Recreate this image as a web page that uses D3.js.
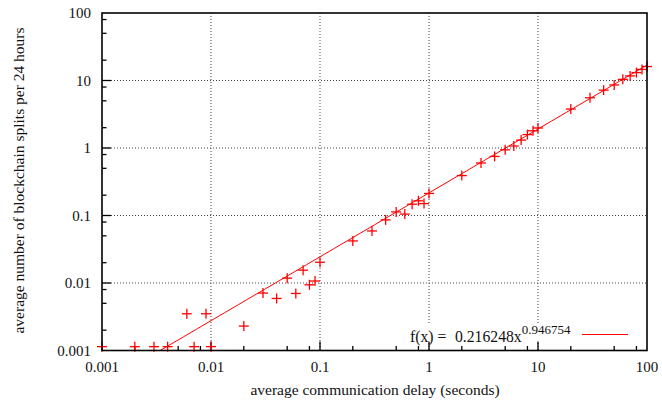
<!DOCTYPE html>
<html>
<head>
<meta charset="utf-8">
<script src="https://cdn.jsdelivr.net/npm/d3@7"></script>
<style>
  body { margin: 0; background: #fff; }
  text { font-family: "Liberation Serif", "DejaVu Serif", serif; fill: #111; }
</style>
</head>
<body>
<div id="chart"></div>
<script>
// measured points (delay in seconds, splits per 24 h)
var delays = [0.001, 0.002, 0.003, 0.004, 0.006, 0.007, 0.009, 0.01, 0.02,
              0.03, 0.04, 0.05, 0.06, 0.07, 0.08, 0.09, 0.1,
              0.2, 0.3, 0.4, 0.5, 0.6, 0.7, 0.8, 0.9, 1,
              2, 3, 4, 5, 6, 7, 8, 9, 10,
              20, 30, 40, 50, 60, 70, 80, 90, 100];
var splits = [0.00114, 0.00114, 0.00114, 0.00114, 0.0035, 0.00114, 0.0035, 0.00114, 0.0023,
              0.0071, 0.0059, 0.0118, 0.0070, 0.0155, 0.0094, 0.0107, 0.0203,
              0.042, 0.059, 0.086, 0.113, 0.105, 0.147, 0.165, 0.150, 0.212,
              0.39, 0.60, 0.75, 0.94, 1.07, 1.31, 1.58, 1.80, 1.98,
              3.78, 5.55, 7.2, 8.6, 10.4, 11.7, 13.1, 14.6, 16.1];

// fitted power law
var fitA = 0.216248, fitB = 0.946754;

var xTicks = [0.001, 0.01, 0.1, 1, 10, 100];
var yTicks = [0.001, 0.01, 0.1, 1, 10, 100];
var tickLabels = ["0.001", "0.01", "0.1", "1", "10", "100"];
var minorSteps = [2, 5, 8];

var W = 662, H = 406;
var margin = { top: 13, right: 15, bottom: 55.5, left: 102 },
    width = W - margin.left - margin.right,
    height = H - margin.top - margin.bottom;

var svg = d3.select("#chart").append("svg")
    .attr("width", W).attr("height", H);

var g = svg.append("g")
    .attr("transform", "translate(" + margin.left + "," + margin.top + ")");

var x = d3.scaleLog().domain([0.001, 100]).range([0, width]);
var y = d3.scaleLog().domain([0.001, 100]).range([height, 0]);

// minor tick values
var minors = [];
xTicks.slice(0, -1).forEach(function(t) {
    minorSteps.forEach(function(m) { minors.push(t * m); });
});

// grid
var inner = xTicks.slice(1, -1);
g.selectAll(".gx").data(inner).enter().append("line")
    .attr("x1", function(d) { return x(d); }).attr("x2", function(d) { return x(d); })
    .attr("y1", 0).attr("y2", height)
    .attr("stroke", "#444").attr("stroke-width", 1)
    .attr("stroke-dasharray", "1,2");
g.selectAll(".gy").data(inner).enter().append("line")
    .attr("y1", function(d) { return y(d); }).attr("y2", function(d) { return y(d); })
    .attr("x1", 0).attr("x2", width)
    .attr("stroke", "#444").attr("stroke-width", 1)
    .attr("stroke-dasharray", "1,2");

// key background hides the grid
g.append("rect")
    .attr("x", 300).attr("y", 312)
    .attr("width", 230).attr("height", 16)
    .attr("fill", "#fff");

// inward ticks
g.selectAll(".tx").data(xTicks.slice(1, -1)).enter().append("line")
    .attr("x1", function(d) { return x(d); }).attr("x2", function(d) { return x(d); })
    .attr("y1", height).attr("y2", height - 9)
    .attr("stroke", "#000").attr("stroke-width", 1.3);
g.selectAll(".mx").data(minors).enter().append("line")
    .attr("x1", function(d) { return x(d); }).attr("x2", function(d) { return x(d); })
    .attr("y1", height).attr("y2", height - 4.5)
    .attr("stroke", "#000").attr("stroke-width", 1.3);
g.selectAll(".ty").data(yTicks.slice(1, -1)).enter().append("line")
    .attr("y1", function(d) { return y(d); }).attr("y2", function(d) { return y(d); })
    .attr("x1", 0).attr("x2", 9)
    .attr("stroke", "#000").attr("stroke-width", 1.3);
g.selectAll(".my").data(minors).enter().append("line")
    .attr("y1", function(d) { return y(d); }).attr("y2", function(d) { return y(d); })
    .attr("x1", 0).attr("x2", 4.5)
    .attr("stroke", "#000").attr("stroke-width", 1.3);

// tick labels
g.selectAll(".lx").data(xTicks).enter().append("text")
    .attr("x", function(d) { return x(d); })
    .attr("y", height + 21)
    .attr("text-anchor", "middle")
    .style("font-size", "15px")
    .text(function(d, i) { return tickLabels[i]; });
g.selectAll(".ly").data(yTicks).enter().append("text")
    .attr("x", -11)
    .attr("y", function(d) { return y(d) + 5; })
    .attr("text-anchor", "end")
    .style("font-size", "15px")
    .text(function(d, i) { return tickLabels[i]; });

// axis titles
svg.append("text")
    .attr("x", 375)
    .attr("y", 395)
    .attr("text-anchor", "middle")
    .style("font-size", "15.5px")
    .text("average communication delay (seconds)");
svg.append("text")
    .attr("transform", "translate(24,180.5) rotate(-90)")
    .attr("text-anchor", "middle")
    .style("font-size", "15.5px")
    .text("average number of blockchain splits per 24 hours");

// fit line, clipped
svg.append("defs").append("clipPath").attr("id", "clip")
    .append("rect").attr("width", width).attr("height", height);

var fitX = d3.range(0, 41).map(function(i) { return Math.pow(10, -3 + i * 5 / 40); });
var line = d3.line()
    .x(function(d) { return x(d); })
    .y(function(d) { return y(fitA * Math.pow(d, fitB)); });
g.append("path")
    .datum(fitX)
    .attr("clip-path", "url(#clip)")
    .attr("d", line)
    .attr("fill", "none")
    .attr("stroke", "#ff0000")
    .attr("stroke-width", 1);

// data points as plus markers
var pts = g.append("g").attr("stroke", "#ff0000").attr("stroke-width", 1.3);
delays.forEach(function(d, i) {
    var px = x(d), py = y(splits[i]);
    pts.append("line").attr("x1", px - 5).attr("x2", px + 5).attr("y1", py).attr("y2", py);
    pts.append("line").attr("x1", px).attr("x2", px).attr("y1", py - 5).attr("y2", py + 5);
});

// key
var key = g.append("text")
    .attr("y", 328.5)
    .style("font-size", "15.7px");
key.append("tspan").attr("x", 308).text("f(x) =");
key.append("tspan").attr("x", 353).text("0.216248x");
key.append("tspan").attr("dy", -8).style("font-size", "13px").text("0.946754");
g.append("line")
    .attr("x1", 480).attr("x2", 526)
    .attr("y1", 321.5).attr("y2", 321.5)
    .attr("stroke", "#ff0000").attr("stroke-width", 1);

// border
g.append("rect")
    .attr("width", width).attr("height", height)
    .attr("fill", "none")
    .attr("stroke", "#000").attr("stroke-width", 1.6);
</script>
</body>
</html>
